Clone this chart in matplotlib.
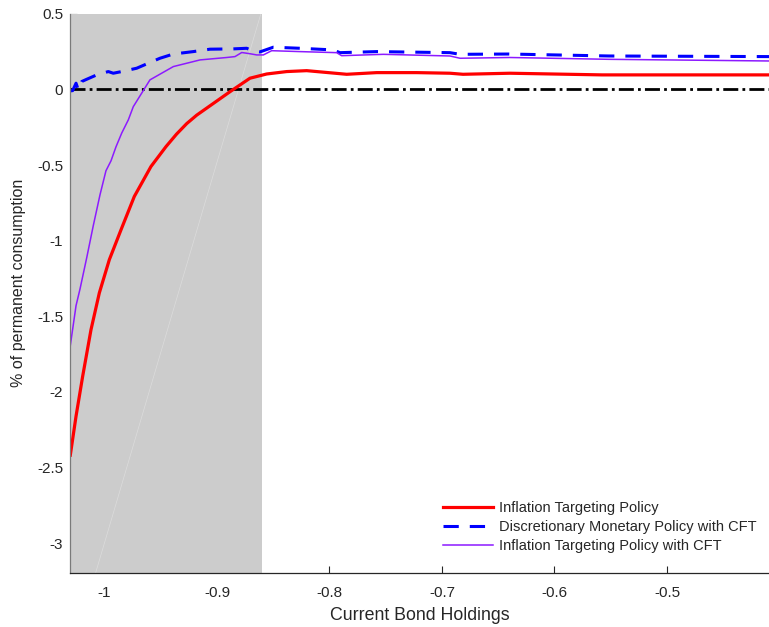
#!/usr/bin/env python3
# -*- coding: utf-8 -*-
"""Welfare gains across current bond holdings for three policy regimes."""

import matplotlib as mpl
import matplotlib.pyplot as plt


# =======================
# Global style
# =======================
mpl.rcParams["font.family"] = ["Liberation Sans", "DejaVu Sans"]
mpl.rcParams["axes.unicode_minus"] = False
mpl.rcParams.update({
    "font.size": 11,
    "xtick.labelsize": 11,
    "ytick.labelsize": 11,
    "text.color": "#262626",
    "axes.labelcolor": "#262626",
    "xtick.color": "#262626",
    "ytick.color": "#262626",
})

OUT_PNG = "out.png"


# =======================
# Data
# =======================
x_it = [-1.0304, -1.0253, -1.0194, -1.0120, -1.0046, -0.9957, -0.9853, -0.9735,
        -0.9587, -0.9453, -0.9360, -0.9269, -0.9180, -0.9092, -0.8884, -0.8707,
        -0.8558, -0.8380, -0.8203, -0.7847, -0.7580, -0.7225, -0.6929, -0.6813,
        -0.6396, -0.5578, -0.5222, -0.4093]
y_it = [-2.419, -2.161, -1.897, -1.589, -1.346, -1.126, -0.928, -0.708,
        -0.510, -0.378, -0.296, -0.226, -0.170, -0.124, -0.015, 0.074,
        0.102, 0.118, 0.124, 0.100, 0.111, 0.111, 0.107, 0.100,
        0.107, 0.096, 0.096, 0.096]

x_dmp = [-1.0304, -1.0283, -1.0253, -1.0233, -1.0203, -1.0158, -1.0069, -0.9966,
         -0.9922, -0.9847, -0.9714, -0.9611, -0.9507, -0.9388, -0.9211, -0.9062,
         -0.8855, -0.8736, -0.8677, -0.8618, -0.8500, -0.8262, -0.7966, -0.7907,
         -0.7580, -0.6929, -0.6840, -0.6404, -0.5516, -0.4093]
y_dmp = [-0.010, -0.008, 0.041, -0.003, 0.052, 0.067, 0.096, 0.118,
         0.107, 0.118, 0.140, 0.173, 0.206, 0.234, 0.250, 0.266,
         0.268, 0.272, 0.254, 0.248, 0.279, 0.272, 0.261, 0.243,
         0.250, 0.243, 0.232, 0.234, 0.221, 0.217]

x_itc = [-1.0304, -1.0253, -1.0218, -1.0158, -1.0100, -1.0040, -0.9987, -0.9942,
         -0.9898, -0.9847, -0.9788, -0.9744, -0.9596, -0.9388, -0.9151, -0.8914,
         -0.8840, -0.8780, -0.8707, -0.8647, -0.8588, -0.8514, -0.8262, -0.7936,
         -0.7892, -0.7522, -0.6929, -0.6840, -0.6396, -0.5516, -0.4093]
y_itc = [-1.694, -1.430, -1.321, -1.113, -0.902, -0.697, -0.538, -0.472,
         -0.380, -0.289, -0.201, -0.114, 0.063, 0.151, 0.195, 0.211,
         0.217, 0.244, 0.236, 0.228, 0.228, 0.256, 0.250, 0.243,
         0.223, 0.232, 0.221, 0.206, 0.211, 0.199, 0.188]

labels = [
    "Inflation Targeting Policy",
    "Discretionary Monetary Policy with CFT",
    "Inflation Targeting Policy with CFT",
]

XLIM = (-1.0304, -0.4093)
YLIM = (-3.2, 0.5)
XTICKS = [-1.0, -0.9, -0.8, -0.7, -0.6, -0.5]
XTICKLABELS = ["-1", "-0.9", "-0.8", "-0.7", "-0.6", "-0.5"]
YTICKS = [-3.0, -2.5, -2.0, -1.5, -1.0, -0.5, 0.0, 0.5]
YTICKLABELS = ["-3", "-2.5", "-2", "-1.5", "-1", "-0.5", "0", "0.5"]

# shaded region (constrained part of the state space)
SHADE_X = (-1.0304, -0.860)
# faint edge that shows through the shading
EDGE_X = [-1.008, -0.861]
EDGE_Y = [-3.2, 0.5]

RED = "#ff0000"
BLUE = "#0000ff"
PURPLE = "#8c1aff"
GRAY = "#cccccc"


def main():
    fig = plt.figure(figsize=(7.69, 6.27), dpi=100)
    ax = fig.add_axes([70.3 / 769, 1 - 573.3 / 627, 1 - 70.3 / 769, (573.3 - 13.8) / 627])

    ax.axvspan(*SHADE_X, color=GRAY, lw=0, zorder=1)
    ax.plot(EDGE_X, EDGE_Y, color="#dcdcdc", lw=0.5, zorder=1.2)

    ax.axhline(0.0, color="black", lw=2.0, dashes=(5.4, 1.5, 1.0, 1.5), zorder=2)

    ax.plot(x_it, y_it, color=RED, lw=2.3, label=labels[0], zorder=3)
    ax.plot(x_dmp, y_dmp, color=BLUE, lw=2.2, dashes=(5.0, 3.6), label=labels[1], zorder=3)
    ax.plot(x_itc, y_itc, color=PURPLE, lw=1.1, label=labels[2], zorder=3)

    ax.set_xlim(*XLIM)
    ax.set_ylim(*YLIM)
    ax.set_xticks(XTICKS)
    ax.set_xticklabels(XTICKLABELS)
    ax.set_yticks(YTICKS)
    ax.set_yticklabels(YTICKLABELS)
    ax.tick_params(direction="in", length=5, width=0.8)
    ax.tick_params(axis="x", pad=9)
    ax.tick_params(axis="y", pad=5)
    ax.set_axisbelow(True)

    for side in ["top", "right"]:
        ax.spines[side].set_visible(False)
    ax.spines["bottom"].set_color("#262626")
    ax.spines["left"].set_color("#7a7a7a")
    ax.spines["bottom"].set_linewidth(0.9)
    ax.spines["left"].set_linewidth(0.9)
    ax.spines["bottom"].set_zorder(4)
    ax.spines["left"].set_zorder(4)

    ax.set_xlabel("Current Bond Holdings", fontsize=12.8, labelpad=5.5)
    ax.set_ylabel("% of permanent consumption", fontsize=11.5)
    ax.yaxis.set_label_coords((26 - 70.3) / 698.7, (573.3 - 283) / 559.5)

    ax.legend(
        loc="upper left",
        bbox_to_anchor=((443.3 - 70.3) / 698.7, (573.3 - 501) / 559.5),
        frameon=False,
        fontsize=10.5,
        handlelength=3.4,
        handletextpad=0.4,
        labelspacing=0.35,
        borderpad=0,
        borderaxespad=0,
    )

    fig.savefig(OUT_PNG, dpi=100)


if __name__ == "__main__":
    main()
